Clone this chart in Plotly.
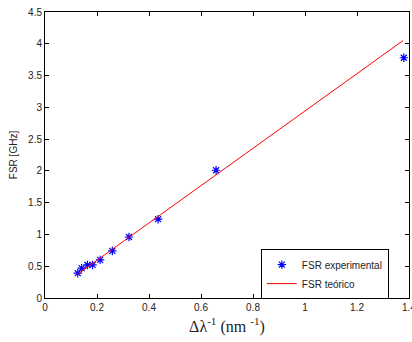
import plotly.graph_objects as go

# Experimental data: inverse wavelength spacing (nm^-1) vs FSR (GHz)
x_exp = [0.126, 0.141, 0.163, 0.183, 0.212, 0.259, 0.323, 0.435, 0.658, 1.380]
y_exp = [0.39, 0.47, 0.52, 0.52, 0.60, 0.74, 0.96, 1.24, 2.01, 3.78]

# Theoretical line endpoints
x_teo = [0.124, 1.377]
y_teo = [0.37, 4.05]

x_ticks = [0, 0.2, 0.4, 0.6, 0.8, 1.0, 1.2, 1.4]
x_ticklabels = ["0", "0.2", "0.4", "0.6", "0.8", "1", "1.2", "1.4"]
y_ticks = [0, 0.5, 1, 1.5, 2, 2.5, 3, 3.5, 4, 4.5]
y_ticklabels = ["0", "0.5", "1", "1.5", "2", "2.5", "3", "3.5", "4", "4.5"]

fig = go.Figure()
fig.add_trace(go.Scatter(
    x=x_exp, y=y_exp, mode="markers", name="FSR experimental",
    marker=dict(symbol="asterisk-open", size=7, color="#0000ff",
                line=dict(color="#0000ff", width=1.2)),
))
fig.add_trace(go.Scatter(
    x=x_teo, y=y_teo, mode="lines", name="FSR teórico",
    line=dict(color="#ff0000", width=1),
))

axis_common = dict(
    showline=True, linecolor="black", linewidth=1, mirror="ticks",
    ticks="inside", ticklen=4, tickcolor="black", showgrid=False,
    zeroline=False, automargin=False, ticklabeloverflow="allow",
    tickfont=dict(family="Liberation Sans, Arial", size=10, color="#222"),
)

fig.update_layout(
    width=412, height=342,
    margin=dict(l=45, r=3, t=12, b=44),
    paper_bgcolor="white", plot_bgcolor="white",
    showlegend=True,
    legend=dict(
        x=0.593, y=0.171, xanchor="left", yanchor="top",
        bordercolor="black", borderwidth=1, bgcolor="white",
        font=dict(family="Liberation Sans, Arial", size=10, color="#222"),
        tracegroupgap=0, itemwidth=30,
    ),
    xaxis=dict(
        range=[0, 1.4], tickvals=x_ticks, ticktext=x_ticklabels,
        title=dict(text="Δλ<sup>-1</sup> (nm <sup>-1</sup>)",
                   font=dict(family="Liberation Serif, Times New Roman", size=16, color="#222"),
                   standoff=8),
        **axis_common,
    ),
    yaxis=dict(
        range=[0, 4.5], tickvals=y_ticks, ticktext=y_ticklabels,
        title=dict(text="FSR [GHz]",
                   font=dict(family="Liberation Sans, Arial", size=10, color="#222"),
                   standoff=8),
        **axis_common,
    ),
)

fig.write_html("out.html", config={"displayModeBar": False},
               post_script="document.body.style.margin='0px';")
